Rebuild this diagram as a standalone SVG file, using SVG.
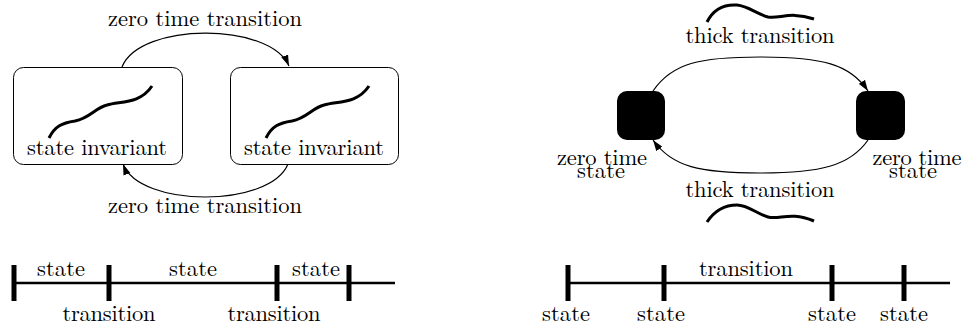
<svg xmlns="http://www.w3.org/2000/svg" width="968" height="327" viewBox="0 0 968 327">
<style>
text{font-size:22.5px;fill:#000;text-anchor:middle}
.box{fill:#fff;stroke:#000;stroke-width:1}
.zts{fill:#000;stroke:none}
.conn{fill:none;stroke:#000;stroke-width:1.2}
.wave{fill:none;stroke:#000;stroke-width:3;stroke-linecap:butt}
.axis{stroke:#000;stroke-width:2.6;fill:none}
.tick{stroke:#000;stroke-width:5;fill:none}
</style>
<defs>
<marker id="arr" markerUnits="userSpaceOnUse" markerWidth="12" markerHeight="8" refX="11" refY="4" orient="auto">
<path d="M0,0.3 L11,4 L0,7.7 z" fill="#000"/>
</marker>
<path id="w1" d="M49,138 C55,126 62,123 75,121 C90,118 95,108 107,105 C121,101 140,104 152,86"/>
<path id="tw" d="M707,22 C713,10 722,4 737,5 C748,6 757,14 768,17 C780,19 790,11 814,19"/>
</defs>
<g font-family="'Latin Modern Roman', 'Liberation Serif', serif">
<g id="connectors">
<path class="conn" d="M122,67 C140,22 270,22 289,66" marker-end="url(#arr)"/>
<path class="conn" d="M288,164 C270,208 140,208 123,164" marker-end="url(#arr)"/>
<path class="conn" d="M653,91 C672,63 700,57 760,57 C822,57 850,64 868,91" marker-end="url(#arr)"/>
<path class="conn" d="M868,140 C850,166 820,173 760,173 C700,173 672,167 653,140" marker-end="url(#arr)"/>
<text x="205" y="26" textLength="194" lengthAdjust="spacing">zero time transition</text>
<text x="205" y="213" textLength="194" lengthAdjust="spacing">zero time transition</text>
<text x="760" y="43" textLength="149" lengthAdjust="spacing">thick transition</text>
<use href="#tw" class="wave"/>
<text x="760" y="197" textLength="149" lengthAdjust="spacing">thick transition</text>
<path class="wave" d="M707,222 C713,213 722,205 737,205 C748,205 757,214 768,217 C780,220 790,211 814,221"/>
</g>
<g id="box1">
<rect class="box" x="13.5" y="67.5" width="169" height="97" rx="10"/>
<use href="#w1" class="wave"/>
<text x="97" y="155" textLength="140" lengthAdjust="spacing">state invariant</text>
</g>
<g id="box2">
<rect class="box" x="230.5" y="67.5" width="168" height="97" rx="10"/>
<use href="#w1" class="wave" transform="translate(217,0)"/>
<text x="314" y="155" textLength="140" lengthAdjust="spacing">state invariant</text>
</g>
<g id="zts1">
<rect class="zts" x="617" y="91" width="48" height="49" rx="10"/>
<text><tspan x="602" y="165" textLength="90" lengthAdjust="spacing">zero time</tspan><tspan x="601" y="178" textLength="48" lengthAdjust="spacing">state</tspan></text>
</g>
<g id="zts2">
<rect class="zts" x="856" y="91" width="49" height="49" rx="10"/>
<text><tspan x="917" y="165" textLength="89" lengthAdjust="spacing">zero time</tspan><tspan x="913" y="178" textLength="48" lengthAdjust="spacing">state</tspan></text>
</g>
<g id="timeline-left">
<line class="axis" x1="13" y1="283" x2="395" y2="283"/>
<line class="tick" x1="14" y1="265" x2="14" y2="301"/>
<line class="tick" x1="109" y1="265" x2="109" y2="301"/>
<line class="tick" x1="277" y1="265" x2="277" y2="301"/>
<line class="tick" x1="349" y1="265" x2="349" y2="301"/>
<text x="61" y="276" textLength="48" lengthAdjust="spacing">state</text>
<text x="193" y="276" textLength="48" lengthAdjust="spacing">state</text>
<text x="316" y="276" textLength="48" lengthAdjust="spacing">state</text>
<text x="109" y="321" textLength="93" lengthAdjust="spacing">transition</text>
<text x="274" y="321" textLength="93" lengthAdjust="spacing">transition</text>
</g>
<g id="timeline-right">
<line class="axis" x1="567" y1="283" x2="950" y2="283"/>
<line class="tick" x1="568" y1="265" x2="568" y2="301"/>
<line class="tick" x1="664" y1="265" x2="664" y2="301"/>
<line class="tick" x1="832" y1="265" x2="832" y2="301"/>
<line class="tick" x1="904" y1="265" x2="904" y2="301"/>
<text x="746" y="276" textLength="94" lengthAdjust="spacing">transition</text>
<text x="566" y="321" textLength="48" lengthAdjust="spacing">state</text>
<text x="661" y="321" textLength="48" lengthAdjust="spacing">state</text>
<text x="832" y="321" textLength="48" lengthAdjust="spacing">state</text>
<text x="904" y="321" textLength="48" lengthAdjust="spacing">state</text>
</g>
</g>
</svg>
